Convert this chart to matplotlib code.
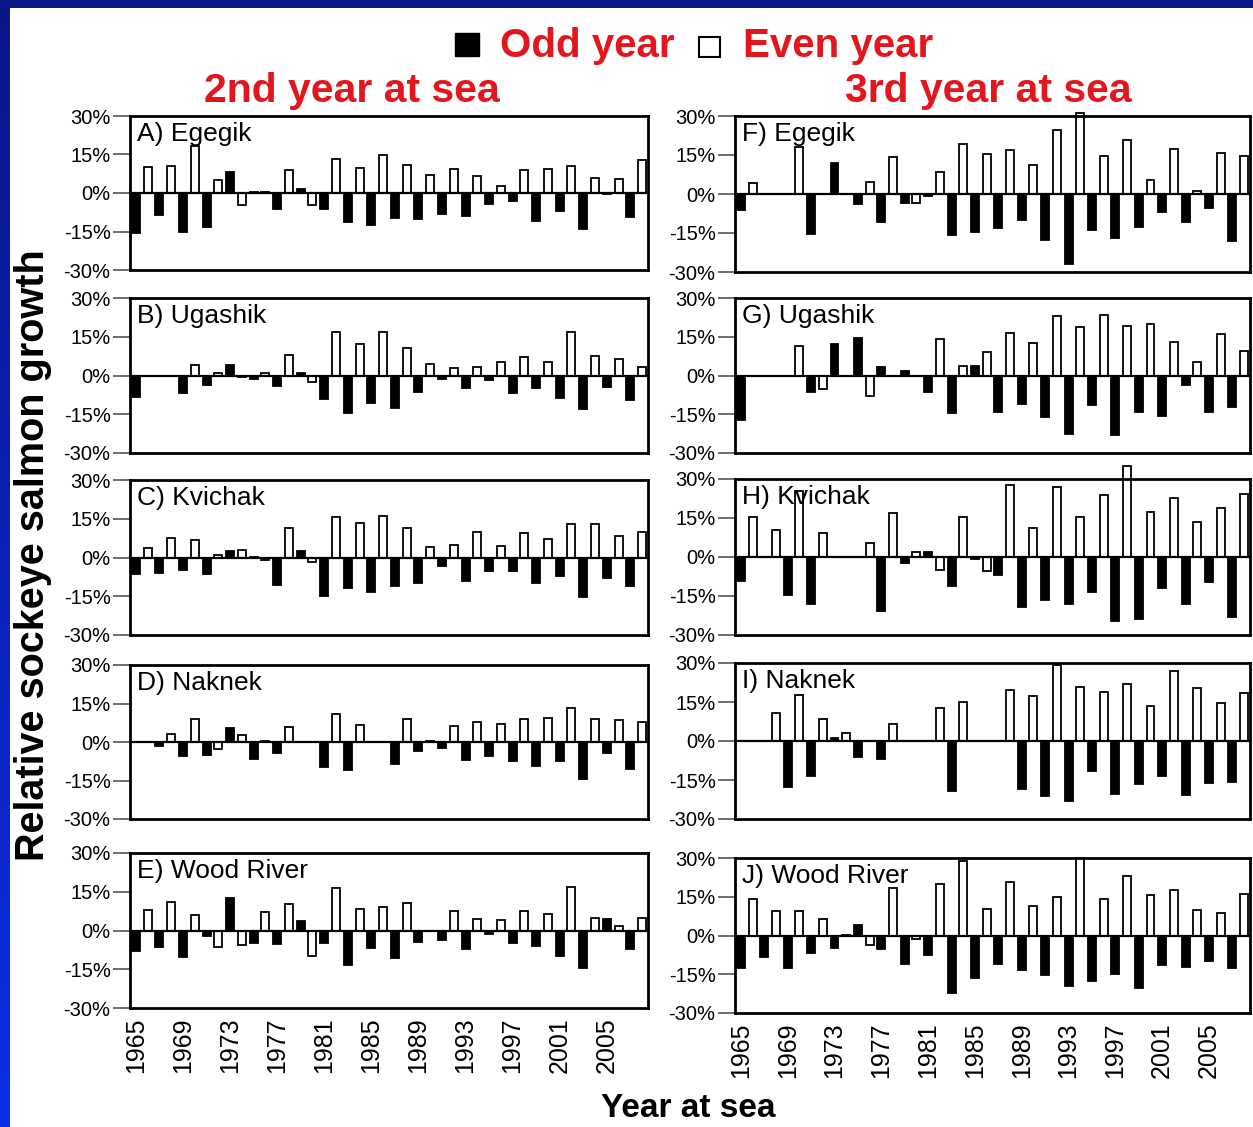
import matplotlib
matplotlib.use("Agg")
import matplotlib.pyplot as plt
import numpy as np
from matplotlib.patches import Rectangle

years = np.arange(1965, 2009)
tick_years = list(range(1965, 2006, 4))
ytick_vals = [-30, -15, 0, 15, 30]
ytick_text = ["-30%", "-15%", "0%", "15%", "30%"]

# 2nd year at sea (relative growth, %)
egegik2 = [-15.5, 10.1, -8.4, 10.7, -15.2, 18.3, -13.2, 4.9, 8.3, -4.8,
           0.5, 0.3, -6.1, 8.8, 1.5, -4.8, -6.1, 13.2, -11.2, 9.8,
           -12.5, 14.8, -9.7, 10.8, -10.1, 7.0, -8.0, 9.5, -8.8, 6.8,
           -4.4, 2.6, -3.2, 9.0, -11.0, 9.5, -7.2, 10.5, -14.2, 5.9,
           -0.3, 5.3, -9.4, 13.0]
ugashik2 = [-8.2, 0, 0, 0, -6.9, 4.2, -3.7, 0.8, 4.2, -0.5,
            -1.2, 1.0, -4.1, 8.0, 0.8, -2.6, -9.0, 16.7, -14.4, 12.2,
            -10.5, 16.7, -12.7, 10.6, -6.3, 4.6, -1.3, 2.9, -4.9, 3.3,
            -1.8, 5.3, -6.7, 7.1, -5.0, 5.3, -8.7, 16.7, -12.8, 7.7,
            -4.4, 6.2, -9.6, 3.3]
kvichak2 = [-6.3, 3.6, -6.0, 7.7, -4.8, 6.9, -6.3, 0.8, 2.4, 3.0,
            0.2, -1.0, -10.6, 11.6, 2.4, -1.8, -14.8, 15.6, -11.8, 13.5,
            -13.4, 16.2, -10.9, 11.6, -9.9, 4.2, -3.1, 4.8, -9.0, 10.0,
            -5.4, 4.4, -5.4, 9.4, -9.7, 7.3, -7.0, 13.0, -15.1, 13.0,
            -8.1, 8.2, -10.9, 10.0]
naknek2 = [0, 0, -1.5, 3.2, -5.4, 9.1, -5.0, -2.8, 5.3, 2.7,
           -6.7, 0.2, -4.4, 5.9, 0, 0, -9.9, 11.1, -10.8, 6.7,
           0, 0, -8.6, 8.8, -3.5, 0.3, -2.2, 6.2, -7.0, 7.7,
           -5.4, 7.2, -7.3, 9.0, -9.5, 9.5, -7.5, 13.3, -14.4, 9.1,
           -4.1, 8.5, -10.6, 7.7]
wood2 = [-8.0, 8.1, -6.3, 11.2, -10.2, 6.0, -2.2, -6.4, 12.6, -5.8,
         -4.8, 7.1, -5.4, 10.2, 3.6, -9.9, -5.0, 16.5, -13.4, 8.4,
         -6.8, 9.1, -10.6, 10.6, -4.5, 0, -3.7, 7.6, -7.3, 4.6,
         -1.3, 4.0, -4.8, 7.5, -6.0, 6.2, -9.7, 16.9, -14.4, 4.9,
         4.6, 1.7, -7.3, 4.8]

# 3rd year at sea
egegik3 = [-6.2, 4.3, 0, 0, 0, 18.1, -15.2, 0, 12.0, 0,
           -3.9, 4.8, -10.6, 14.2, -3.5, -3.5, -0.9, 8.3, -15.9, 19.1,
           -14.5, 15.2, -12.9, 17.0, -10.1, 11.2, -17.7, 24.5, -26.8, 31.0,
           -14.0, 14.5, -16.8, 20.9, -12.6, 5.2, -7.1, 17.4, -10.6, 1.0,
           -5.2, 15.7, -18.1, 14.8]
ugashik3 = [-17.1, 0, 0, 0, 0, 11.4, -6.4, -5.1, 12.2, 0,
            14.6, -8.1, 3.1, 0, 1.7, -0.3, -6.4, 14.1, -14.7, 3.6,
            3.6, 9.0, -14.2, 16.3, -10.9, 12.4, -16.2, 22.9, -22.6, 18.6,
            -11.5, 23.6, -23.2, 19.2, -14.1, 19.9, -15.8, 13.1, -3.8, 5.3,
            -14.1, 15.9, -12.2, 9.5]
kvichak3 = [-9.4, 15.5, 0, 10.5, -14.8, 25.4, -18.2, 9.3, 0, 0,
            0, 5.3, -20.6, 17.0, -2.2, 1.8, 1.8, -4.9, -11.0, 15.4,
            -0.8, -5.5, -7.1, 27.7, -19.4, 11.2, -16.5, 27.0, -18.2, 15.4,
            -13.5, 23.7, -24.5, 35.1, -23.9, 17.4, -12.0, 22.5, -18.2, 13.5,
            -9.8, 19.0, -23.0, 24.4]
naknek3 = [0, 0, 0, 10.7, -17.6, 17.8, -13.5, 8.4, 1.3, 3.2,
           -6.3, 0, -7.1, 6.6, 0, 0, 0, 12.6, -19.2, 15.0,
           0, 0, 0, 19.7, -18.3, 17.5, -21.2, 29.3, -23.0, 20.7,
           -11.6, 18.8, -20.2, 22.0, -16.7, 13.5, -13.5, 27.0, -20.6, 20.3,
           -16.1, 14.8, -15.6, 18.4]
wood3 = [-12.5, 14.2, -8.2, 9.4, -12.5, 9.4, -6.7, 6.2, -5.0, 0.3,
         4.2, -3.5, -5.2, 18.4, -11.2, -1.5, -7.6, 19.9, -22.4, 28.7,
         -16.6, 10.4, -11.2, 20.6, -13.5, 11.3, -15.3, 14.9, -19.6, 29.9,
         -17.6, 14.3, -14.8, 23.2, -20.2, 15.6, -11.5, 17.8, -12.2, 9.8,
         -9.7, 8.6, -12.5, 16.1]

left_labels = ["A) Egegik", "B) Ugashik", "C) Kvichak", "D) Naknek", "E) Wood River"]
right_labels = ["F) Egegik", "G) Ugashik", "H) Kvichak", "I) Naknek", "J) Wood River"]
left_data = [egegik2, ugashik2, kvichak2, naknek2, wood2]
right_data = [egegik3, ugashik3, kvichak3, naknek3, wood3]

W, H = 1253, 1127
RED = "#e3161d"
SANS = ["Liberation Sans", "DejaVu Sans"]
plt.rcParams["font.family"] = SANS

fig = plt.figure(figsize=(W / 100, H / 100), dpi=100)

# blue slide frame
ax_top = fig.add_axes([0, 1 - 8 / H, 1, 8 / H])
ax_top.set_facecolor("#0b1687")
ax_top.set_xticks([]); ax_top.set_yticks([])
for s in ax_top.spines.values():
    s.set_visible(False)
ax_left = fig.add_axes([0, 0, 10 / W, 1])
grad = np.linspace(0, 1, 256).reshape(-1, 1)
cmap = matplotlib.colors.LinearSegmentedColormap.from_list("edge", ["#0a2fe6", "#0b1687"])
ax_left.imshow(grad, aspect="auto", cmap=cmap, origin="lower", extent=[0, 1, 0, 1])
ax_left.axis("off")

# pixel boxes of each panel (left, top, right, bottom)
left_boxes = [(130, 116, 648, 270), (130, 298, 648, 453), (130, 480, 648, 635),
              (130, 665, 648, 819), (130, 853, 648, 1008)]
right_boxes = [(735, 116, 1250, 272), (735, 298, 1250, 453), (735, 479, 1250, 635),
               (735, 663, 1250, 819), (735, 858, 1250, 1013)]


def draw_panel(box, vals, label, bottom):
    x0, y0, x1, y1 = box
    ax = fig.add_axes([x0 / W, 1 - y1 / H, (x1 - x0) / W, (y1 - y0) / H])
    vals = np.array(vals)
    colors = ["black" if y % 2 == 1 else "white" for y in years]
    ax.bar(years, vals, width=0.68, color=colors, edgecolor="black",
           linewidth=1.3, clip_on=False, zorder=3)
    ax.axhline(0, color="black", lw=1.6, zorder=4)
    ax.set_xlim(1964.5, 2008.5)
    ax.set_ylim(-30, 30)
    ax.set_yticks(ytick_vals)
    ax.set_yticklabels(ytick_text, fontsize=14.5)
    ax.tick_params(axis="y", length=12, width=1.2, pad=2, color="#555555")
    ax.set_xticks(tick_years)
    if bottom:
        ax.set_xticklabels([str(y) for y in tick_years], rotation=90, fontsize=18)
        ax.tick_params(axis="x", length=0, pad=7)
    else:
        ax.set_xticklabels([])
        ax.tick_params(axis="x", length=0)
    for s in ax.spines.values():
        s.set_linewidth(2)
        s.set_zorder(5)
    ax.text(0.014, 0.96, label, transform=ax.transAxes, fontsize=19,
            va="top", ha="left", zorder=6)
    return ax


for i in range(5):
    draw_panel(left_boxes[i], left_data[i], left_labels[i], i == 4)
    draw_panel(right_boxes[i], right_data[i], right_labels[i], i == 4)

# headings
fig.text(352 / W, 1 - 102 / H, "2nd year at sea", color=RED, fontsize=29.5,
         fontweight="bold", ha="center", va="baseline")
fig.text(988 / W, 1 - 102 / H, "3rd year at sea", color=RED, fontsize=29.5,
         fontweight="bold", ha="center", va="baseline")

# legend
fig.patches.append(Rectangle((455 / W, 1 - 56 / H), 24 / W, 23 / H,
                             transform=fig.transFigure, facecolor="black",
                             edgecolor="black"))
fig.patches.append(Rectangle((699 / W, 1 - 57 / H), 21 / W, 20 / H,
                             transform=fig.transFigure, facecolor="white",
                             edgecolor="black", lw=1.5))
fig.text(500 / W, 1 - 57 / H, "Odd year", color=RED, fontsize=29,
         fontweight="bold", ha="left", va="baseline")
fig.text(743 / W, 1 - 57 / H, "Even year", color=RED, fontsize=29,
         fontweight="bold", ha="left", va="baseline")

# axis titles
fig.text(33 / W, 1 - 555 / H, "Relative sockeye salmon growth", rotation=90,
         fontsize=28.5, fontweight="bold", ha="center", va="center")
fig.text(688 / W, 1 - 1117 / H, "Year at sea", fontsize=24, fontweight="bold",
         ha="center", va="baseline")

fig.savefig("out.png", dpi=100)
